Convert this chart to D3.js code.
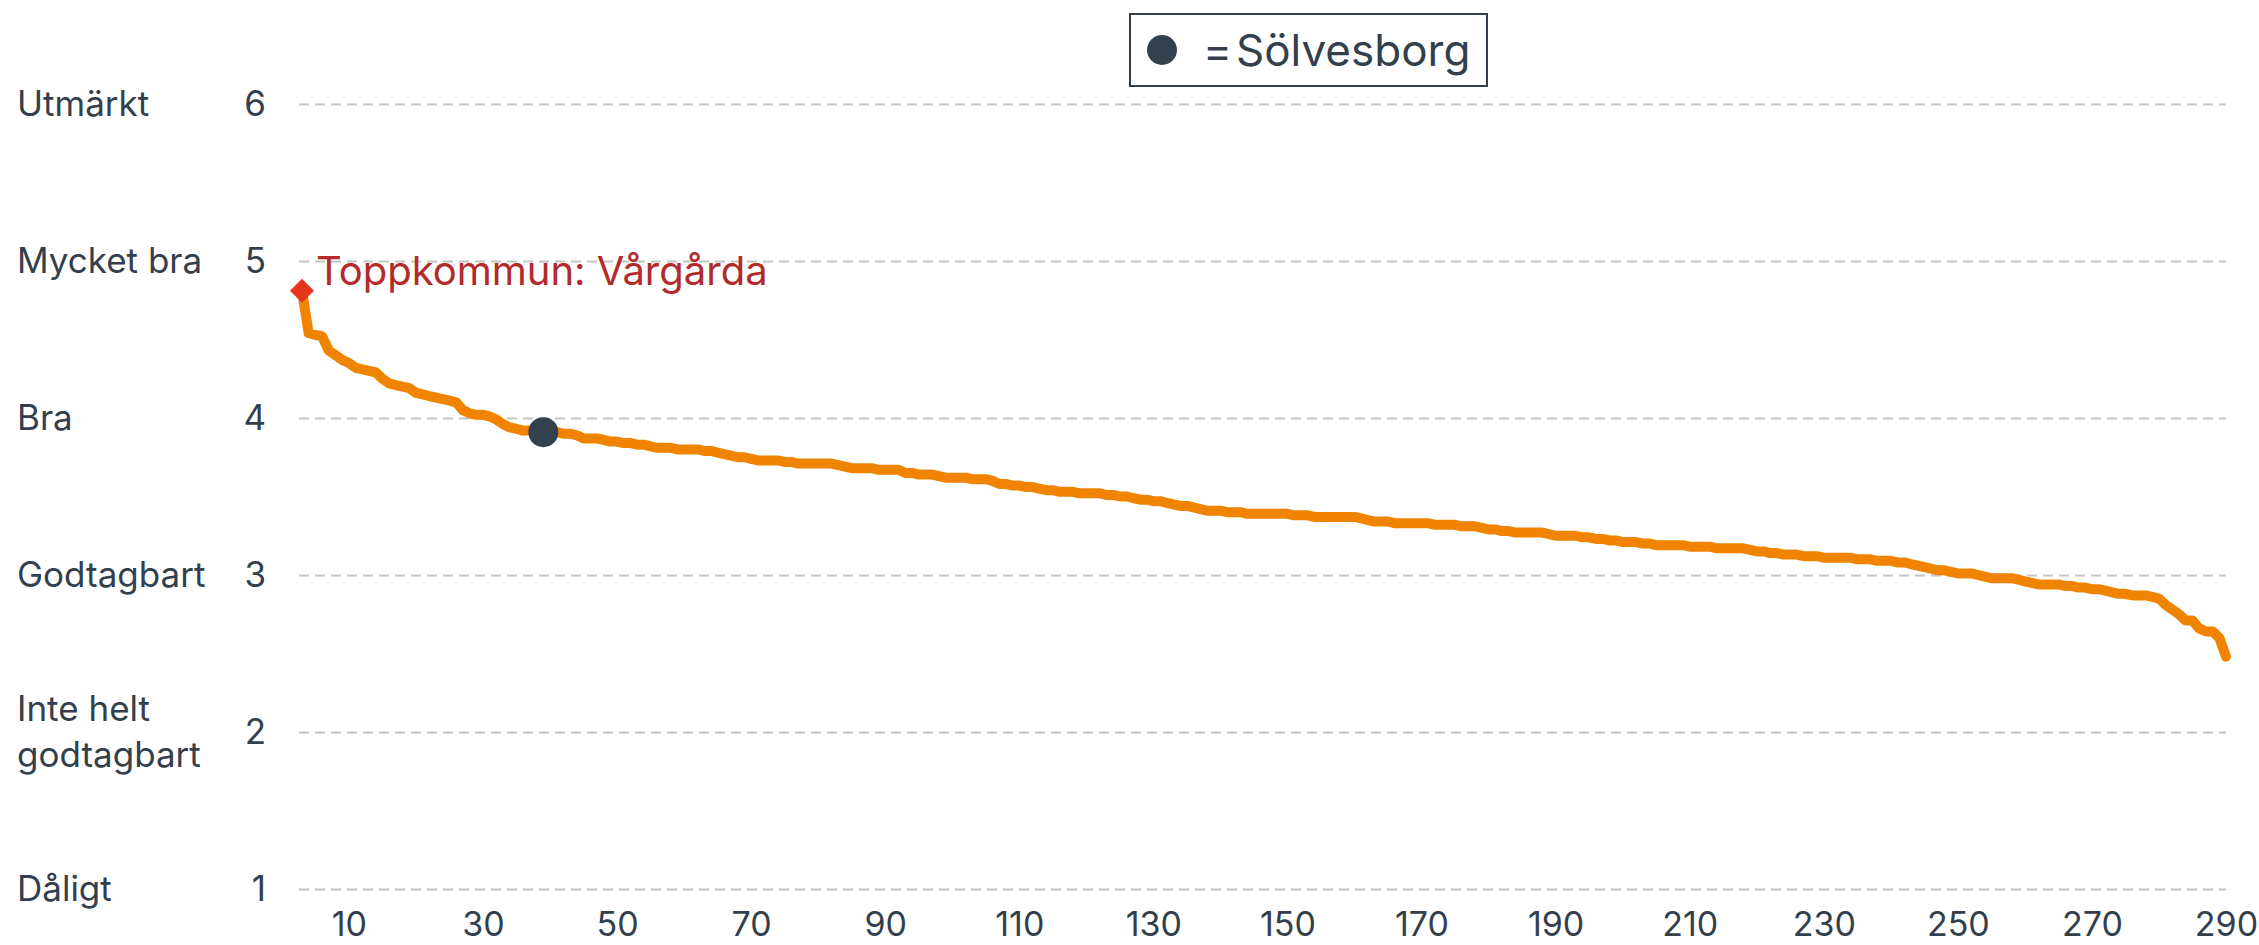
<!DOCTYPE html>
<html>
<head>
<meta charset="utf-8">
<script src="https://cdn.jsdelivr.net/npm/d3@7"></script>
<style>
  body { margin: 0; background: #fff; }
  text { font-family: Inter, "Open Sans", sans-serif; fill: #333f4c; }
</style>
</head>
<body>
<div id="chart"></div>
<script>
// Chart size and margins
var svgWidth = 2259;
var svgHeight = 945;

// Data: index score per municipality, sorted, first plotted rank is 3
var startRank = 3;
var scores = [
  4.81, 4.54, 4.53, 4.52, 4.43, 4.40, 4.37, 4.35, 4.32, 4.31,   // 3-12
  4.30, 4.29, 4.25, 4.22, 4.21, 4.20, 4.19, 4.16, 4.15, 4.14,   // 13-22
  4.13, 4.12, 4.11, 4.10, 4.05, 4.03, 4.02, 4.02, 4.01, 3.99,   // 23-32
  3.96, 3.94, 3.93, 3.92, 3.92, 3.92, 3.91, 3.91, 3.91, 3.90,   // 33-42
  3.90, 3.89, 3.87, 3.87, 3.87, 3.86, 3.85, 3.85, 3.84, 3.84,   // 43-52
  3.83, 3.83, 3.82, 3.81, 3.81, 3.81, 3.80, 3.80, 3.80, 3.80,   // 53-62
  3.79, 3.79, 3.78, 3.77, 3.76, 3.75, 3.75, 3.74, 3.73, 3.73,   // 63-72
  3.73, 3.73, 3.72, 3.72, 3.71, 3.71, 3.71, 3.71, 3.71, 3.71,   // 73-82
  3.70, 3.69, 3.68, 3.68, 3.68, 3.68, 3.67, 3.67, 3.67, 3.67,   // 83-92
  3.65, 3.65, 3.64, 3.64, 3.64, 3.63, 3.62, 3.62, 3.62, 3.62,   // 93-102
  3.61, 3.61, 3.61, 3.60, 3.58, 3.58, 3.57, 3.57, 3.56, 3.56,   // 103-112
  3.55, 3.54, 3.54, 3.53, 3.53, 3.53, 3.52, 3.52, 3.52, 3.52,   // 113-122
  3.51, 3.51, 3.50, 3.50, 3.49, 3.48, 3.48, 3.47, 3.47, 3.46,   // 123-132
  3.45, 3.44, 3.44, 3.43, 3.42, 3.41, 3.41, 3.41, 3.40, 3.40,   // 133-142
  3.40, 3.39, 3.39, 3.39, 3.39, 3.39, 3.39, 3.39, 3.38, 3.38,   // 143-152
  3.38, 3.37, 3.37, 3.37, 3.37, 3.37, 3.37, 3.37, 3.36, 3.35,   // 153-162
  3.34, 3.34, 3.34, 3.33, 3.33, 3.33, 3.33, 3.33, 3.33, 3.32,   // 163-172
  3.32, 3.32, 3.32, 3.31, 3.31, 3.31, 3.30, 3.29, 3.29, 3.28,   // 173-182
  3.28, 3.27, 3.27, 3.27, 3.27, 3.27, 3.26, 3.25, 3.25, 3.25,   // 183-192
  3.25, 3.24, 3.24, 3.23, 3.23, 3.22, 3.22, 3.21, 3.21, 3.21,   // 193-202
  3.20, 3.20, 3.19, 3.19, 3.19, 3.19, 3.19, 3.18, 3.18, 3.18,   // 203-212
  3.18, 3.17, 3.17, 3.17, 3.17, 3.17, 3.16, 3.15, 3.15, 3.14,   // 213-222
  3.14, 3.13, 3.13, 3.13, 3.12, 3.12, 3.12, 3.11, 3.11, 3.11,   // 223-232
  3.11, 3.11, 3.10, 3.10, 3.10, 3.09, 3.09, 3.09, 3.08, 3.08,   // 233-242
  3.07, 3.06, 3.05, 3.04, 3.03, 3.03, 3.02, 3.01, 3.01, 3.01,   // 243-252
  3.00, 2.99, 2.98, 2.98, 2.98, 2.98, 2.97, 2.96, 2.95, 2.94,   // 253-262
  2.94, 2.94, 2.94, 2.93, 2.93, 2.92, 2.92, 2.91, 2.91, 2.90,   // 263-272
  2.89, 2.88, 2.88, 2.87, 2.87, 2.87, 2.86, 2.85, 2.81, 2.78,   // 273-282
  2.75, 2.71, 2.71, 2.66, 2.64, 2.64, 2.60, 2.48                // 283-290
];

// Highlighted municipalities
var topName = "Vårgårda";
var topRank = 3;
var homeName = "Sölvesborg";
var homeRank = 39;

// Axis ticks and grade names
var xTicks = [10, 30, 50, 70, 90, 110, 130, 150, 170, 190, 210, 230, 250, 270, 290];
var yTicks = [1, 2, 3, 4, 5, 6];
var gradeLabels = ["Dåligt", "Inte helt|godtagbart", "Godtagbart", "Bra", "Mycket bra", "Utmärkt"];

var data = scores.map((v, i) => ({ rank: startRank + i, score: v }));

var margin = { top: 104, right: 33, bottom: 56, left: 299 };
var width = svgWidth - margin.left - margin.right;
var height = svgHeight - margin.top - margin.bottom;

var svg = d3.select("#chart")
    .append("svg")
    .attr("width", svgWidth)
    .attr("height", svgHeight);

var chartGroup = svg.append("g")
    .attr("transform", `translate(${margin.left}, ${margin.top})`);

var xScale = d3.scaleLinear()
    .domain([startRank, 290])
    .range([3, width]);

var yScale = d3.scaleLinear()
    .domain([1, 6])
    .range([height, 0]);

// Y axis with dashed gridlines
var leftAxis = d3.axisLeft(yScale)
    .tickValues(yTicks)
    .tickSize(-width)
    .tickPadding(33)
    .tickFormat(d3.format("d"));

var yAxisGroup = chartGroup.append("g").call(leftAxis);
yAxisGroup.select(".domain").remove();
yAxisGroup.selectAll("line")
    .attr("stroke", "#c4c4c4")
    .attr("stroke-width", 2)
    .attr("stroke-dasharray", "10,6");
yAxisGroup.selectAll("text")
    .attr("font-size", "35px")
    .attr("fill", "#333f4c");

// Grade names on the far left
var lineHeight = 46;
var gradeGroup = svg.append("g");
gradeLabels.forEach(function(label, i) {
    var lines = label.split("|");
    var t = gradeGroup.append("text")
        .attr("x", 17)
        .attr("y", margin.top + yScale(yTicks[i]))
        .attr("font-size", "35px");
    lines.forEach(function(line, j) {
        t.append("tspan")
            .attr("x", 17)
            .attr("dy", j === 0 ? 12 - (lines.length - 1) * lineHeight / 2 : lineHeight)
            .text(line);
    });
});

// X axis
var bottomAxis = d3.axisBottom(xScale)
    .tickValues(xTicks)
    .tickSize(0)
    .tickPadding(23);

var xAxisGroup = chartGroup.append("g")
    .attr("transform", `translate(0, ${height})`)
    .call(bottomAxis);
xAxisGroup.select(".domain").remove();
xAxisGroup.selectAll("text")
    .attr("font-size", "34px")
    .attr("fill", "#333f4c");

// Score line
var line = d3.line()
    .x(d => xScale(d.rank))
    .y(d => yScale(d.score));

chartGroup.append("path")
    .datum(data)
    .attr("d", line)
    .attr("fill", "none")
    .attr("stroke", "#f08400")
    .attr("stroke-width", 10)
    .attr("stroke-linejoin", "round")
    .attr("stroke-linecap", "round");

// Top municipality marker
var topPoint = data.find(d => d.rank === topRank);
chartGroup.append("path")
    .attr("d", d3.symbol().type(d3.symbolSquare).size(290)())
    .attr("transform", `translate(${xScale(topPoint.rank)}, ${yScale(topPoint.score)}) rotate(45)`)
    .attr("fill", "#e4361b");

chartGroup.append("text")
    .attr("x", xScale(topPoint.rank) + 14)
    .attr("y", yScale(topPoint.score) - 6)
    .attr("font-size", "40px")
    .style("fill", "#b22a2a")
    .text("Toppkommun: " + topName);

// Home municipality dot
var homePoint = data.find(d => d.rank === homeRank);
chartGroup.append("circle")
    .attr("cx", xScale(homePoint.rank))
    .attr("cy", yScale(homePoint.score))
    .attr("r", 15)
    .attr("fill", "#33414f");

// Legend
var legend = svg.append("g")
    .attr("transform", "translate(1130, 14)");
legend.append("rect")
    .attr("width", 357)
    .attr("height", 72)
    .attr("fill", "#fff")
    .attr("stroke", "#333f4c")
    .attr("stroke-width", 2);
legend.append("circle")
    .attr("cx", 32)
    .attr("cy", 36)
    .attr("r", 15)
    .attr("fill", "#33414f");
var legendText = legend.append("text")
    .attr("y", 52)
    .attr("font-size", "44px");
legendText.append("tspan").attr("x", 73).text("=");
legendText.append("tspan").attr("x", 106).text(homeName);
</script>
</body>
</html>
